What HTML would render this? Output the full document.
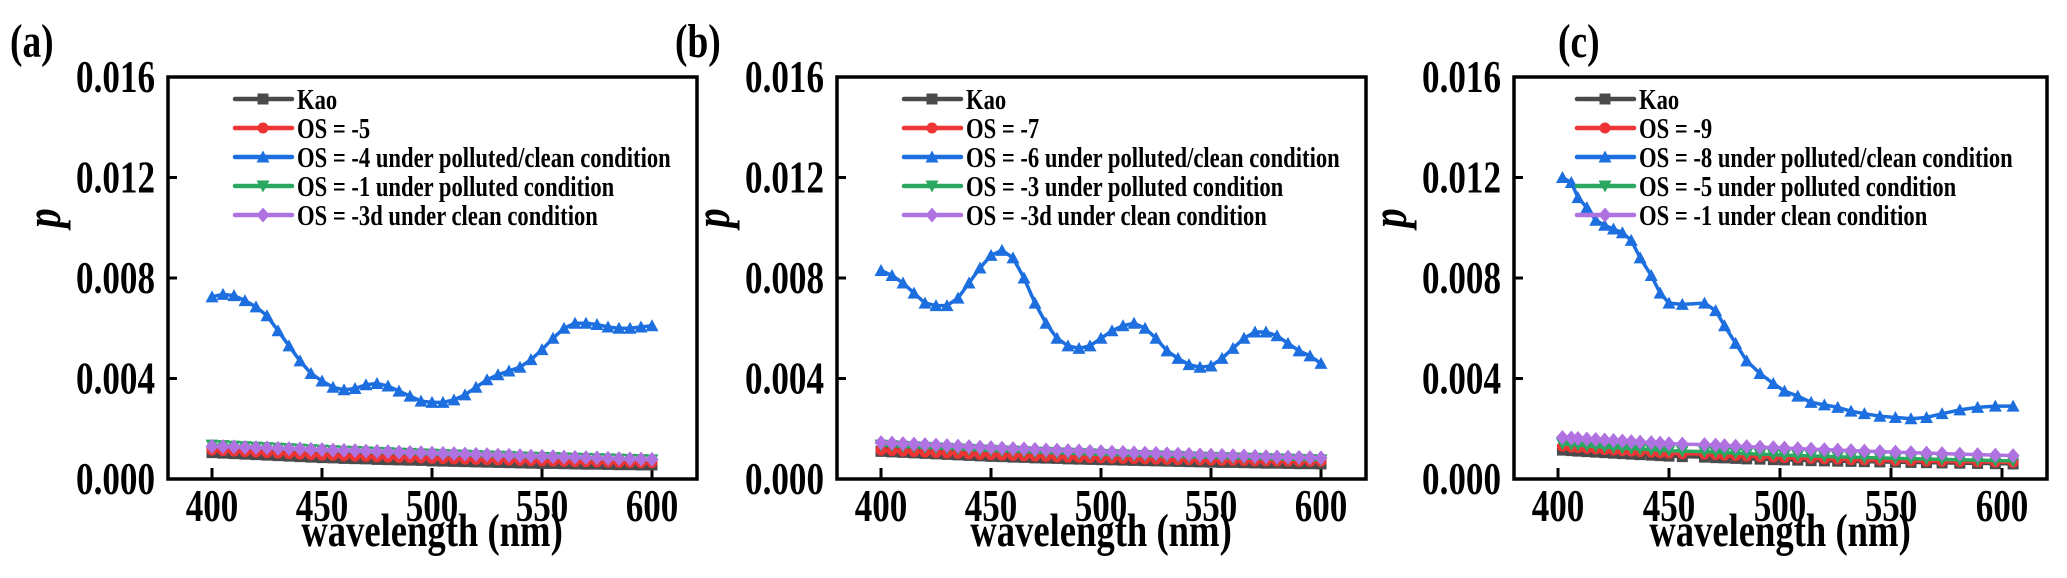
<!DOCTYPE html>
<html><head><meta charset="utf-8"><style>
html,body{margin:0;padding:0;background:#fff;}
svg{display:block;}
text{font-family:"Liberation Serif",serif;font-weight:bold;fill:#000;}
</style></head><body>
<svg id="fig" width="2067" height="578" viewBox="0 0 2067 578" xmlns="http://www.w3.org/2000/svg"></svg>
<script>
const xTicks = [400, 450, 500, 550, 600];
const yTicks = [0.000, 0.004, 0.008, 0.012, 0.016];
const yTickLabels = ["0.000", "0.004", "0.008", "0.012", "0.016"];
const xs5 = [400,405,410,415,420,425,430,435,440,445,450,455,460,465,470,475,480,485,490,495,500,505,510,515,520,525,530,535,540,545,550,555,560,565,570,575,580,585,590,595,600];

// Panel (a)
const aKao = [1.05,1.03,1.01,0.99,0.97,0.95,0.93,0.91,0.89,0.87,0.85,0.84,0.82,0.81,0.80,0.78,0.77,0.76,0.75,0.74,0.72,0.71,0.70,0.69,0.68,0.67,0.66,0.65,0.64,0.63,0.62,0.62,0.61,0.60,0.59,0.59,0.58,0.57,0.57,0.56,0.56];
const aRed = [1.15,1.13,1.11,1.09,1.07,1.05,1.03,1.01,0.99,0.97,0.95,0.94,0.92,0.91,0.90,0.88,0.87,0.86,0.85,0.84,0.82,0.81,0.80,0.79,0.78,0.77,0.76,0.75,0.74,0.73,0.72,0.71,0.70,0.69,0.69,0.68,0.67,0.66,0.66,0.65,0.65];
const aBlue = [7.25,7.35,7.30,7.10,6.85,6.50,5.90,5.30,4.70,4.20,3.90,3.65,3.55,3.60,3.75,3.80,3.70,3.50,3.30,3.10,3.05,3.05,3.15,3.35,3.65,3.95,4.15,4.30,4.45,4.75,5.15,5.60,6.00,6.20,6.20,6.15,6.05,6.00,6.00,6.05,6.10];
const aGreen = [1.35,1.33,1.31,1.29,1.27,1.25,1.23,1.21,1.19,1.17,1.15,1.13,1.11,1.10,1.08,1.06,1.05,1.03,1.02,1.00,0.99,0.97,0.96,0.95,0.93,0.92,0.91,0.90,0.88,0.87,0.86,0.85,0.84,0.83,0.82,0.81,0.80,0.79,0.78,0.77,0.76];
const aPurple = [1.30,1.29,1.28,1.26,1.25,1.24,1.22,1.21,1.20,1.18,1.17,1.15,1.14,1.13,1.11,1.10,1.09,1.07,1.06,1.05,1.03,1.02,1.01,0.99,0.98,0.97,0.95,0.94,0.93,0.91,0.90,0.89,0.87,0.86,0.85,0.84,0.82,0.81,0.80,0.79,0.78];

// Panel (b)
const bKao = [1.10,1.08,1.06,1.04,1.02,1.00,0.98,0.96,0.94,0.92,0.90,0.89,0.87,0.86,0.84,0.83,0.82,0.80,0.79,0.78,0.77,0.76,0.75,0.74,0.73,0.72,0.71,0.70,0.69,0.68,0.67,0.66,0.66,0.65,0.64,0.63,0.63,0.62,0.61,0.61,0.60];
const bRed = [1.15,1.13,1.11,1.09,1.07,1.05,1.03,1.02,1.00,0.98,0.97,0.95,0.94,0.92,0.91,0.90,0.88,0.87,0.86,0.85,0.84,0.83,0.82,0.81,0.80,0.79,0.78,0.77,0.77,0.76,0.75,0.74,0.74,0.73,0.72,0.72,0.71,0.71,0.70,0.70,0.70];
const bBlue = [8.30,8.10,7.80,7.40,7.00,6.90,6.90,7.20,7.80,8.40,8.90,9.10,8.80,8.00,7.00,6.20,5.60,5.30,5.20,5.30,5.60,5.90,6.10,6.20,6.00,5.60,5.10,4.80,4.55,4.45,4.50,4.80,5.20,5.60,5.85,5.85,5.70,5.40,5.10,4.90,4.60];
const bGreen = [1.35,1.33,1.30,1.28,1.26,1.24,1.22,1.20,1.18,1.16,1.14,1.12,1.11,1.09,1.07,1.06,1.04,1.03,1.01,1.00,0.98,0.97,0.96,0.94,0.93,0.92,0.91,0.90,0.88,0.87,0.86,0.85,0.84,0.83,0.82,0.81,0.80,0.79,0.78,0.77,0.76];
const bPurple = [1.45,1.43,1.41,1.39,1.37,1.35,1.33,1.31,1.29,1.27,1.25,1.23,1.21,1.20,1.18,1.16,1.15,1.13,1.12,1.10,1.09,1.07,1.06,1.04,1.03,1.02,1.00,0.99,0.98,0.96,0.95,0.94,0.93,0.92,0.90,0.89,0.88,0.87,0.86,0.85,0.84];

// Panel (c)
const cXs = [402,406,409,413,417,421,425,429,433,437,442,446,450,456,466,471,475,480,485,491,497,502,508,514,520,526,532,538,545,552,559,566,573,581,589,597,605];
const cBlue = [12.0,11.8,11.2,10.8,10.3,10.1,9.95,9.8,9.5,8.8,8.1,7.4,7.0,6.95,7.0,6.7,6.1,5.4,4.7,4.2,3.8,3.5,3.3,3.05,2.95,2.85,2.7,2.6,2.5,2.45,2.4,2.45,2.6,2.75,2.85,2.9,2.9];
const cKao = [1.15,1.13,1.11,1.09,1.07,1.05,1.03,1.01,0.99,0.97,0.95,0.93,0.91,0.89,0.87,0.85,0.84,0.82,0.80,0.79,0.77,0.76,0.75,0.73,0.72,0.71,0.70,0.69,0.68,0.67,0.66,0.65,0.64,0.63,0.62,0.61,0.60];
const cRed = [1.30,1.27,1.25,1.22,1.20,1.17,1.15,1.13,1.11,1.09,1.07,1.05,1.03,1.01,0.99,0.97,0.95,0.93,0.91,0.89,0.87,0.85,0.84,0.82,0.80,0.79,0.77,0.76,0.75,0.73,0.72,0.71,0.70,0.69,0.68,0.67,0.66];
const cGreen = [1.40,1.37,1.35,1.32,1.30,1.27,1.25,1.23,1.21,1.19,1.17,1.15,1.13,1.11,1.09,1.07,1.05,1.03,1.01,0.99,0.97,0.95,0.93,0.92,0.90,0.88,0.87,0.85,0.84,0.82,0.81,0.79,0.78,0.76,0.75,0.73,0.72];
const cPurple = [1.65,1.63,1.61,1.59,1.57,1.55,1.53,1.51,1.49,1.47,1.45,1.43,1.41,1.39,1.37,1.35,1.33,1.31,1.29,1.27,1.25,1.23,1.21,1.19,1.17,1.15,1.13,1.11,1.09,1.07,1.05,1.03,1.01,0.99,0.97,0.95,0.93];

const colors = {kao:"#4a4a4a", red:"#ee3434", blue:"#1d6fe0", green:"#2aa862", purple:"#b072e0"};
const NS = "http://www.w3.org/2000/svg";
const svg = document.getElementById("fig");
const SX = 0.78;
function mk(tag, attrs, parent){const e=document.createElementNS(NS,tag);for(const k in attrs)e.setAttribute(k,attrs[k]);(parent||svg).appendChild(e);return e;}
function txt(parent, x, y, size, str, anchor, extraTransform, italic){
  const t=mk("text",{x:0,y:0,"font-size":size,"text-anchor":anchor||"start",
    transform:`translate(${x} ${y}) ${extraTransform||""} scale(${SX} 1)`},parent);
  if(italic) t.setAttribute("font-style","italic");
  t.textContent=str; return t;
}

function marker(g, shape, x, y, color){
  const s=5.5; let e;
  if(shape==="square") e=mk("rect",{x:x-s,y:y-s,width:2*s,height:2*s,fill:color},g);
  else if(shape==="circle") e=mk("circle",{cx:x,cy:y,r:s,fill:color},g);
  else if(shape==="up") e=mk("polygon",{points:`${x},${y-s-1} ${x-s-1},${y+s} ${x+s+1},${y+s}`,fill:color},g);
  else if(shape==="down") e=mk("polygon",{points:`${x},${y+s+1} ${x-s-1},${y-s} ${x+s+1},${y-s}`,fill:color},g);
  else e=mk("polygon",{points:`${x},${y-s-2} ${x-s-1},${y} ${x},${y+s+2} ${x+s+1},${y}`,fill:color},g);
  return e;
}

const panels = [
 {id:"a", label:"(a)", labelX:10, left:168, right:697, legX:235,
  series:[
   {name:"Kao", key:"kao", shape:"square", xs:xs5, ys:aKao},
   {name:"OS = -5", key:"red", shape:"circle", xs:xs5, ys:aRed},
   {name:"OS = -4 under polluted/clean condition", key:"blue", shape:"up", xs:xs5, ys:aBlue},
   {name:"OS = -1 under polluted condition", key:"green", shape:"down", xs:xs5, ys:aGreen},
   {name:"OS = -3d under clean condition", key:"purple", shape:"diamond", xs:xs5, ys:aPurple}]},
 {id:"b", label:"(b)", labelX:675, left:837, right:1366, legX:904,
  series:[
   {name:"Kao", key:"kao", shape:"square", xs:xs5, ys:bKao},
   {name:"OS = -7", key:"red", shape:"circle", xs:xs5, ys:bRed},
   {name:"OS = -6 under polluted/clean condition", key:"blue", shape:"up", xs:xs5, ys:bBlue},
   {name:"OS = -3 under polluted condition", key:"green", shape:"down", xs:xs5, ys:bGreen},
   {name:"OS = -3d under clean condition", key:"purple", shape:"diamond", xs:xs5, ys:bPurple}]},
 {id:"c", label:"(c)", labelX:1558, left:1514, right:2047, legX:1577,
  series:[
   {name:"Kao", key:"kao", shape:"square", xs:cXs, ys:cKao},
   {name:"OS = -9", key:"red", shape:"circle", xs:cXs, ys:cRed},
   {name:"OS = -8 under polluted/clean condition", key:"blue", shape:"up", xs:cXs, ys:cBlue},
   {name:"OS = -5  under polluted condition", key:"green", shape:"down", xs:cXs, ys:cGreen},
   {name:"OS = -1 under clean condition", key:"purple", shape:"diamond", xs:cXs, ys:cPurple}]}
];

const TOP=77, BOTTOM=479;
panels.forEach(p=>{
  const g=mk("g",{});
  
  
  const x0=p.left+44, x1=p.right-45;
  const X=v=>x0+(v-400)*(x1-x0)/200;
  const Y=v=>BOTTOM-(v/0.016)*(BOTTOM-TOP);
  const lab=txt(g,p.labelX,57,48,p.label);
  
  
  yTicks.forEach((t,i)=>{
    const y=Y(t);
    const tk=mk("line",{x1:p.left,x2:p.left+9,y1:y,y2:y,stroke:"#000","stroke-width":3},g);
    
    
    const tl=txt(g,p.left-13,y+15,45,yTickLabels[i],"end");
    
    
  });
  xTicks.forEach(t=>{
    const x=X(t);
    const tk=mk("line",{x1:x,x2:x,y1:BOTTOM,y2:BOTTOM-11,stroke:"#000","stroke-width":3},g);
    
    
    const tl=txt(g,x,521,45,String(t),"middle");
    
    
  });
  const xl=txt(g,(x0+x1)/2,546,47,"wavelength (nm)","middle");
  
  
  const yl=txt(g,p.left-108,218,50,"p","middle","rotate(-90)",true);
  
  
  p.series.forEach(s=>{
    const sg=mk("g",{},g);
    
    
    const pts=s.xs.map((x,i)=>X(x)+","+Y(s.ys[i]/1000)).join(" ");
    const ln=mk("polyline",{points:pts,fill:"none",stroke:colors[s.key],"stroke-width":3.5,"stroke-linejoin":"round"},sg);
    
    
    s.xs.forEach((x,i)=>{
      const m=marker(sg,s.shape,X(x),Y(s.ys[i]/1000),colors[s.key]);
      
      
    });
  });
  const fr=mk("rect",{x:p.left,y:TOP,width:p.right-p.left,height:BOTTOM-TOP,fill:"none",stroke:"#000","stroke-width":3.5},g);
  
  
  const lg=mk("g",{},g);
  
  
  p.series.forEach((s,i)=>{
    const y=99+i*29;
    const eg=mk("g",{},lg);
    
    
    mk("line",{x1:p.legX,x2:p.legX+57,y1:y,y2:y,stroke:colors[s.key],"stroke-width":4.5,"stroke-linecap":"round"},eg);
    marker(eg,s.shape,p.legX+28,y,colors[s.key]);
    txt(eg,p.legX+62,y+10,29,s.name);
  });
});
</script>
</body></html>
